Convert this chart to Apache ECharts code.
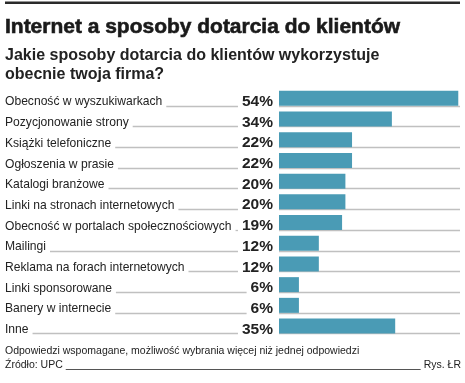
<!DOCTYPE html>
<html><head><meta charset="utf-8">
<script src="https://cdn.jsdelivr.net/npm/echarts@6/dist/echarts.min.js"></script>
<style>html,body{margin:0;padding:0;background:#fff}#c{width:465px;height:383px}</style>
</head><body><div id="c"></div>
<script>
const categories = [
  'Obecność w wyszukiwarkach',
  'Pozycjonowanie strony',
  'Książki telefoniczne',
  'Ogłoszenia w prasie',
  'Katalogi branżowe',
  'Linki na stronach internetowych',
  'Obecność w portalach społecznościowych',
  'Mailingi',
  'Reklama na forach internetowych',
  'Linki sponsorowane',
  'Banery w internecie',
  'Inne'
];
const values = [54, 34, 22, 22, 20, 20, 19, 12, 12, 6, 6, 35];
const titleText = 'Internet a sposoby dotarcia do klientów';
const subtitleLines = ['Jakie sposoby dotarcia do klientów wykorzystuje', 'obecnie twoja firma?'];
const noteText = 'Odpowiedzi wspomagane, możliwość wybrania więcej niż jednej odpowiedzi';
const sourceText = 'Źródło: UPC';
const creditText = 'Rys. ŁR';

const FONT = '"Liberation Sans", Arial, sans-serif';
const LABEL_SIZE = 12.1, VALUE_SIZE = 15.5;
const TEXT = '#222';
const BAR = '#4a9bb5';
const RULE = '#c0c0c0';

const ctx = document.createElement('canvas').getContext('2d');
function measure(text, font) { ctx.font = font; return ctx.measureText(text).width; }

const chart = echarts.init(document.getElementById('c'), null, { renderer: 'canvas' });
const GRID_LEFT = 279;
chart.setOption({
  animation: false,
  grid: { left: GRID_LEFT, right: 3.4, top: 88, bottom: 46.6, containLabel: false },
  xAxis: { type: 'value', min: 0, max: 55, show: false },
  yAxis: {
    type: 'category', data: categories, inverse: true,
    axisLine: { show: false }, axisTick: { show: false }, splitLine: { show: false },
    axisLabel: { show: false }
  },
  series: [{
    type: 'bar', data: values, barWidth: 15, z: 3,
    itemStyle: { color: BAR },
    label: {
      show: true, position: 'left', distance: 6, formatter: '{c}%',
      fontFamily: FONT, fontWeight: 'bold', fontSize: VALUE_SIZE, color: TEXT,
      offset: [0, 3.3]
    }
  }]
});

const graphics = [];
graphics.push({ type: 'rect', shape: { x: 5, y: 1.5, width: 455, height: 2.6 }, style: { fill: '#2a2a2a' }, silent: true });

const titleFont = 'bold 19.5px ' + FONT;
const tW = measure(titleText, titleFont);
graphics.push({ type: 'text', x: 5, y: 27.3, scaleX: 395 / tW, style: { text: titleText, font: titleFont, fill: '#1a1a1a', stroke: '#1a1a1a', lineWidth: 0.55, verticalAlign: 'middle' }, silent: true });
graphics.push({ type: 'text', x: 5, y: 55.4, style: { text: subtitleLines[0], font: 'bold 16px ' + FONT, fill: TEXT, verticalAlign: 'middle' }, silent: true });
graphics.push({ type: 'text', x: 5, y: 74.4, style: { text: subtitleLines[1], font: 'bold 16px ' + FONT, fill: TEXT, verticalAlign: 'middle' }, silent: true });

const labelFont = LABEL_SIZE + 'px ' + FONT;
const valueFont = 'bold ' + VALUE_SIZE + 'px ' + FONT;
const x0 = chart.convertToPixel({ xAxisIndex: 0 }, 0);
categories.forEach((c, i) => {
  const cy = chart.convertToPixel({ yAxisIndex: 0 }, i);
  const ly = Math.round(cy + 7.3) + 0.5;
  graphics.push({ type: 'text', x: 5, y: cy + 3.8, style: { text: c, font: labelFont, fill: TEXT, verticalAlign: 'middle' }, silent: true });
  const lw = measure(c, labelFont);
  const vw = measure(values[i] + '%', valueFont);
  const x1 = 5 + lw + 4;
  const x2 = x0 - 6 - vw - 4;
  if (x2 > x1) graphics.push({ type: 'line', z: 1, shape: { x1: x1, y1: ly, x2: x2, y2: ly }, style: { stroke: RULE, lineWidth: 1.3 }, silent: true });
  graphics.push({ type: 'line', z: 1, shape: { x1: x0, y1: ly, x2: 460, y2: ly }, style: { stroke: RULE, lineWidth: 1.3 }, silent: true });
});

const noteFont = '10.5px ' + FONT;
graphics.push({ type: 'text', x: 5, y: 351, style: { text: noteText, font: noteFont, fill: TEXT, verticalAlign: 'middle' }, silent: true });
graphics.push({ type: 'text', x: 5, y: 365, style: { text: sourceText, font: noteFont, fill: TEXT, verticalAlign: 'middle' }, silent: true });
graphics.push({ type: 'text', x: 461, y: 365, style: { text: creditText, font: noteFont, fill: TEXT, align: 'right', verticalAlign: 'middle' }, silent: true });
const sw = measure(sourceText, noteFont), cw = measure(creditText, noteFont);
graphics.push({ type: 'line', shape: { x1: 5 + sw + 3, y1: 369.5, x2: 461 - cw - 3, y2: 369.5 }, style: { stroke: '#555', lineWidth: 1 }, silent: true });

chart.setOption({ graphic: graphics });
</script>
</body></html>
